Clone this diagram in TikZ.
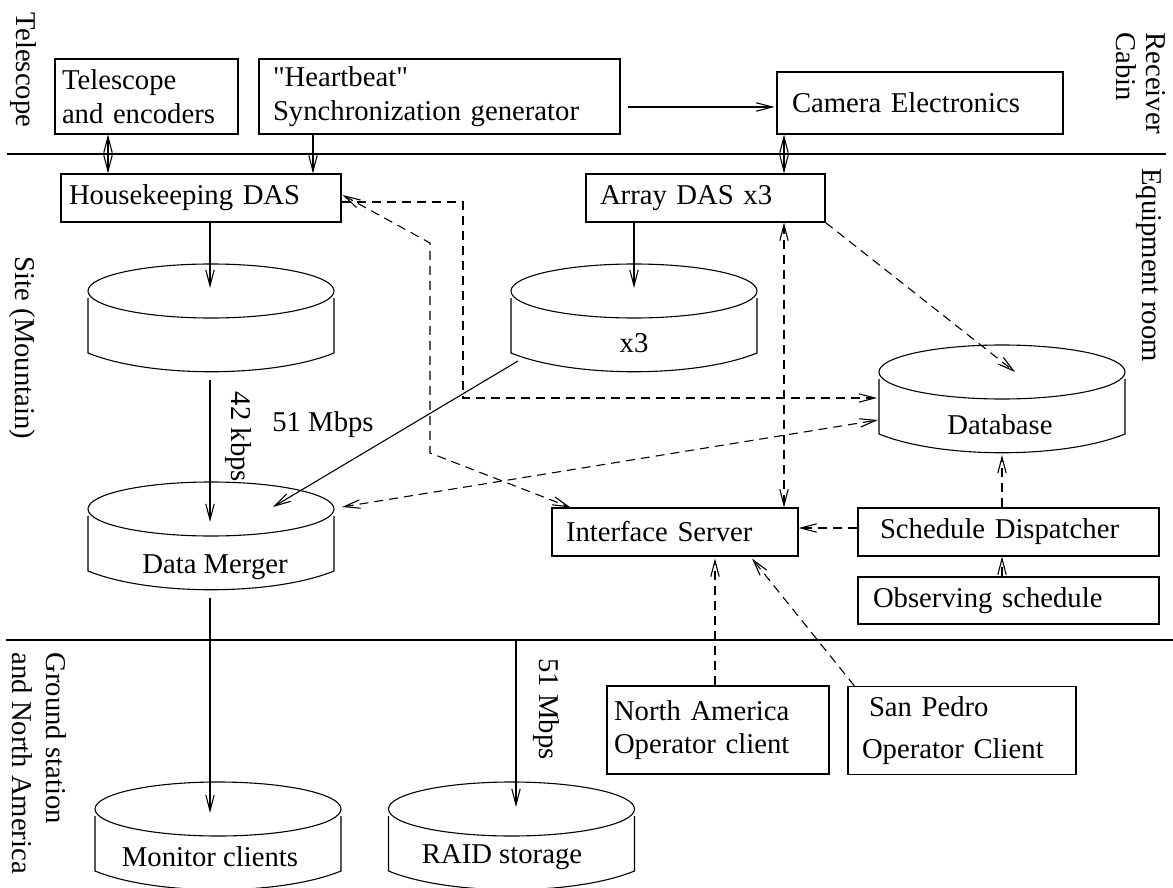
\documentclass[tikz,border=0pt]{standalone}
\usepackage{fontspec}
\setmainfont{Liberation Serif}[Ligatures=TeXOff]
\usetikzlibrary{arrows.meta,calc}
\newcommand\mycyl[2]{%
  \draw[ln] (#1,#2) ellipse [x radius=61.5pt, y radius=13.5pt];
  \draw[ln] ({#1-123},{#2+7}) -- ({#1-123},{#2+62}) .. controls ({#1-61.5},{#2+87}) and ({#1+61.5},{#2+87}) .. ({#1+123},{#2+62}) -- ({#1+123},{#2+7});}
\begin{document}
\begin{tikzpicture}[x=0.5pt,y=-0.5pt,
  every node/.style={font=\fontsize{14.35pt}{17pt}\selectfont},
  ln/.style={line width=0.55pt},
  >={Straight Barb[length=8pt,width=4.2pt]},
  dsh/.style={dash pattern=on 4.5pt off 3pt},
  box/.style={draw,ln,align=left,inner ysep=0pt},
  lab/.style={rotate=-90,inner sep=0pt}]
\useasboundingbox (0,0) rectangle (1173,888);

% separators
\coordinate (s1a) at (7,154); \coordinate (s1b) at (1166,154);
\coordinate (s2a) at (6,640); \coordinate (s2b) at (1173,640);
\draw[ln] (s1a) -- (s1b);
\draw[ln] (s2a) -- (s2b);

% region labels
\node[lab] (ltel) at (23,70) {Telescope};
\node[lab] (lsite) at (22,348) {Site (Mountain)};
\node[lab,align=left,anchor=west] (lground) at (39,652) {Ground station\\and North America};
\node[lab,align=left,anchor=west,font=\fontsize{14.35pt}{15pt}\selectfont] (lrec) at (1141,32) {Receiver\\Cabin};
\node[lab] (lequip) at (1149,265) {Equipment room};

% boxes
\node[box,minimum width=91.5pt,minimum height=37.5pt,inner xsep=3.5pt,text width=84.5pt] (tel) at (146.5,96.5) {Telescope\\and encoders};
\node[box,minimum width=180.5pt,minimum height=37.5pt,inner xsep=7pt,text width=166.5pt] (hb) at (439.5,96.5) {"Heartbeat"\\Synchronization generator};
\node[box,minimum width=143pt,minimum height=31pt,inner xsep=7.5pt,text width=128pt] (cam) at (920,103) {Camera Electronics};
\node[box,minimum width=140pt,minimum height=24pt,inner xsep=4pt,text width=132pt] (hk) at (201,198) {Housekeeping DAS};
\node[box,minimum width=119.5pt,minimum height=24pt,inner xsep=7pt,text width=105.5pt] (arr) at (705.5,198) {Array DAS x3};
\node[box,minimum width=123pt,minimum height=24pt,inner xsep=7pt,text width=109pt] (is) at (675,532) {Interface Server};
\node[box,minimum width=150.5pt,minimum height=24pt,inner xsep=11pt,text width=128.5pt] (sd) at (1008.5,532) {Schedule Dispatcher};
\node[box,minimum width=150.5pt,minimum height=23.5pt,inner xsep=7.5pt,text width=135.5pt] (os) at (1008.5,600.5) {Observing schedule};
\node[box,minimum width=111pt,minimum height=44pt,inner xsep=3.5pt,text width=104pt,font=\fontsize{14.35pt}{16.5pt}\selectfont] (na) at (718,730) {North America\\Operator client};
\node[box,minimum width=114pt,minimum height=44pt,inner xsep=7pt,text width=100pt,font=\fontsize{14.35pt}{21pt}\selectfont] (sp) at (962,730.5) {\hspace{3.5pt}San Pedro\\Operator Client};

% cylinders
\mycyl{211}{291}
\mycyl{634}{291}
\mycyl{211}{509}
\mycyl{1002}{372}
\mycyl{218}{809}
\mycyl{511.5}{809}
\node (x3) at (634,343) {x3};
\node (dm) at (215,567) {Data Merger};
\node (db) at (1000,425) {Database};
\node (mon) at (210,857) {Monitor clients};
\node (raid) at (502,857) {RAID storage};

% connector end points on cylinders
\coordinate (c1in) at (210,288);
\coordinate (c1out) at (210,380);
\coordinate (c2in) at (634,288);
\coordinate (c2out) at (518,361);
\coordinate (dmin) at (210,522);
\coordinate (dmin2) at (273,507);
\coordinate (dmside) at (342,507);
\coordinate (dmout) at (210,598);
\coordinate (monin) at (210,813);
\coordinate (raidsrc) at (516,640);
\coordinate (raidin) at (516,807);
\coordinate (dbside1) at (877,398);
\coordinate (dbside2) at (878,420);
\coordinate (dbtop) at (1015,372);
\coordinate (dbbot) at (1002,455);
\coordinate (k1) at (463,202);
\coordinate (k2) at (463,398);
\coordinate (j1) at (430,243);
\coordinate (j2) at (430,453);

% solid connectors
\draw[ln,->] ($(hb.east)+(7,10.5)$) -- ($(cam.west)+(-2,4)$);
\draw[ln,<->] (108,0 |- tel.south) -- (108,0 |- hk.north);
\draw[ln,->] (313,0 |- hb.south) -- (313,0 |- hk.north);
\draw[ln,<->] (784,0 |- cam.south) -- (784,0 |- arr.north);
\draw[ln,->] (210,0 |- hk.south) -- (c1in);
\draw[ln,->] (634,0 |- arr.south) -- (c2in);
\draw[ln,->] (c1out) -- (dmin);
\draw[ln,->] (c2out) -- (dmin2);
\draw[ln,->] (dmout) -- (monin);
\draw[ln,->] (raidsrc) -- (raidin);

% rate labels
\node[lab] (r42) at (238,437) {42 kbps};
\node (r51a) at (323,425) {51 Mbps};
\node[lab] (r51b) at (546,709) {51 Mbps};

% dashed connectors
\draw[ln,dsh,->] ($(hk.east)+(0,4)$) -- (k1) -- (k2) -- (dbside1);
\draw[ln,dsh,<->] ($(hk.east)+(1,-3)$) -- (j1) -- (j2) -- ($(is.north west)+(19,0)$);
\draw[ln,dsh,<->] (784,0 |- arr.south) -- (784,0 |- is.north);
\draw[ln,dsh,->] (arr.south east) -- (dbtop);
\draw[ln,dsh,<->] (dmside) -- (dbside2);
\draw[ln,dsh,->] ($(sd.west)+(0,-4)$) -- ($(is.east)+(0,-4)$);
\draw[ln,dsh,->] (1002,0 |- sd.north) -- (dbbot);
\draw[ln,dsh,->] (1002,0 |- os.north) -- (1002,0 |- sd.south);
\draw[ln,dsh,->] (715,0 |- na.north) -- ($(715,0 |- is.south)+(0,2)$);
\draw[ln,dsh,->] ($(sp.north west)+(7,0)$) -- ($(752,0 |- is.south)+(0,2)$);
\end{tikzpicture}
\end{document}
